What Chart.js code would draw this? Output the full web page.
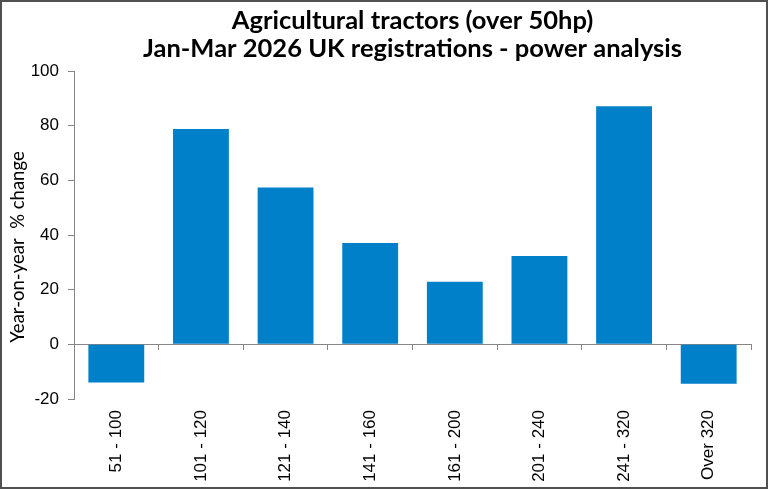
<!DOCTYPE html>
<html>
<head>
<meta charset="utf-8">
<script src="https://cdn.jsdelivr.net/npm/chart.js@4/dist/chart.umd.min.js"></script>
<style>
html,body{margin:0;padding:0;background:#fff;}
#wrap{width:768px;height:489px;position:relative;}
</style>
</head>
<body>
<div id="wrap"><canvas id="c" width="768" height="489"></canvas></div>
<script>
const categories = ["51 - 100","101 - 120","121 - 140","141 - 160","161 - 200","201 - 240","241 - 320","Over 320"];
const yoyChange = [-14.0, 78.8, 57.4, 37.1, 22.9, 32.3, 87.1, -14.4];
const yTicks = [-20, 0, 20, 40, 60, 80, 100];
const titleLines = ["Agricultural tractors (over 50hp)", "Jan-Mar 2026 UK registrations - power analysis"];
const yTitle = "Year-on-year  % change";

const AXIS_GREY = '#868686';

const decor = {
  id: 'decor',
  beforeDraw(chart) {
    const ctx = chart.ctx;
    ctx.save();
    ctx.fillStyle = '#fff';
    ctx.fillRect(0, 0, chart.width, chart.height);
    ctx.restore();
  },
  afterDraw(chart) {
    const ctx = chart.ctx;
    const ca = chart.chartArea;
    ctx.save();
    // main title
    ctx.fillStyle = '#000';
    ctx.font = 'bold 25.5px Lato';
    ctx.textAlign = 'center';
    ctx.textBaseline = 'middle';
    const cx = (ca.left + ca.right) / 2;
    ctx.fillText(titleLines[0], cx, 21);
    ctx.fillText(titleLines[1], cx, 49);
    // y axis title
    ctx.font = '18.5px Lato';
    ctx.translate(18, 247);
    ctx.rotate(-Math.PI / 2);
    ctx.fillText(yTitle, 0, 0);
    ctx.restore();
    // outer frame
    ctx.save();
    ctx.strokeStyle = '#505050';
    ctx.lineWidth = 2;
    ctx.strokeRect(1, 1, chart.width - 2, chart.height - 2);
    ctx.restore();
  }
};

new Chart(document.getElementById('c'), {
  type: 'bar',
  data: {
    labels: categories,
    datasets: [{
      data: yoyChange,
      backgroundColor: '#0080C8',
      borderWidth: 0,
      barPercentage: 0.66,
      categoryPercentage: 1.0,
      xAxisID: 'x',
      yAxisID: 'y'
    }]
  },
  options: {
    responsive: false,
    animation: false,
    devicePixelRatio: 1,
    layout: { padding: { top: 71, right: 17, left: 0, bottom: 0 } },
    plugins: {
      legend: { display: false },
      title: { display: false },
      tooltip: { enabled: false }
    },
    scales: {
      y: {
        position: 'left',
        min: -20,
        max: 100,
        afterBuildTicks(scale) { scale.ticks = yTicks.map(v => ({ value: v })); },
        afterFit(scale) { scale.width = 74; },
        grid: { display: true, drawOnChartArea: false, drawTicks: true, tickLength: 6, color: AXIS_GREY },
        border: { display: true, color: AXIS_GREY, width: 1 },
        ticks: { color: '#000', font: { family: 'Liberation Sans', size: 17 }, padding: 9 }
      },
      x: {
        type: 'category',
        position: { y: 0 },
        offset: true,
        grid: { display: true, offset: true, drawOnChartArea: false, drawTicks: true, tickLength: 5, color: AXIS_GREY },
        border: { display: true, color: AXIS_GREY, width: 1 },
        ticks: { display: false }
      },
      x2: {
        type: 'category',
        position: 'bottom',
        labels: categories,
        offset: true,
        afterFit(scale) { scale.height = 90; },
        grid: { display: false, drawTicks: false },
        border: { display: false },
        ticks: {
          color: '#000',
          font: { family: 'Liberation Sans', size: 17 },
          minRotation: 90,
          maxRotation: 90,
          autoSkip: false,
          padding: 11
        }
      }
    }
  },
  plugins: [decor]
});
</script>
</body>
</html>
